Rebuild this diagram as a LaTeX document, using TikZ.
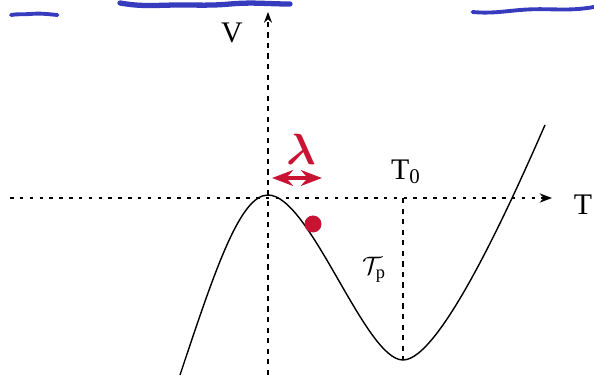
\documentclass[tikz,border=0pt]{standalone}
\usepackage{amsmath}
\usepackage{fontspec}
\setmainfont{Liberation Serif}
\usetikzlibrary{arrows.meta}
\definecolor{inkred}{RGB}{200,20,50}
\definecolor{inkblue}{RGB}{55,60,190}
\tikzset{
  axislbl/.style={font=\fontsize{17}{19}\selectfont},
  dotaxis/.style={line width=0.9pt,dash pattern=on 2pt off 3.6pt},
  dashaxis/.style={line width=0.7pt,dash pattern=on 3pt off 3pt},
  squiggle/.style={inkblue,line width=2.2pt,line cap=round}
}
\begin{document}
\begin{tikzpicture}[>=Stealth]
  \useasboundingbox (0,0) rectangle (11.88,7.7);
  % axes
  \coordinate (tl) at (0.2,3.74); \coordinate (tr) at (11.04,3.74);
  \coordinate (vb) at (5.36,0.2); \coordinate (vt) at (5.36,7.46);
  \draw[->,dotaxis] (tl)--(tr);
  \draw[->,dashaxis] (vb)--(vt);
  \node[axislbl] (vlbl) at (4.64,7.04) {V};
  \node[axislbl] (tlbl) at (11.66,3.6) {T};
  % curve
  \coordinate (c0) at (3.60,0.20); \coordinate (cmax) at (5.36,3.80);
  \coordinate (cmin) at (8.06,0.50); \coordinate (c1) at (10.90,5.20);
  \draw[line width=0.8pt] (c0) .. controls (4.3,2.3) and (4.8,3.80) .. (cmax)
    .. controls (6.2,3.80) and (7.3,0.50) .. (cmin)
    .. controls (8.8,0.50) and (10.2,3.6) .. (c1);
  \coordinate (t0) at (8.06,3.74);
  \draw[dashaxis] (t0)--(cmin);
  \node[axislbl] (t0lbl) at (8.12,4.26) {T$_{\mathrm{0}}$};
  \node[font=\fontsize{15}{17}\selectfont] (tplbl) at (7.48,2.3) {$\mathcal{T}_{\mathrm{p}}$};
  % red marks
  \coordinate (ra) at (5.44,4.14); \coordinate (rb) at (6.44,4.14);
  \draw[<->,inkred,line width=2pt] (ra)--(rb);
  \node[inkred,font=\fontsize{26}{28}\selectfont] (lam) at (6.02,4.72) {$\boldsymbol{\lambda}$};
  \fill[inkred] (6.26,3.22) circle(0.17);
  % blue underlines from the page above
  \draw[squiggle] (0.22,7.4) to[out=10,in=185] (0.6,7.42) to[out=5,in=175] (1.15,7.4);
  \draw[squiggle,line width=3pt] (2.4,7.64) to[out=-10,in=180] (3.6,7.6) to[out=0,in=185] (4.6,7.62) to[out=5,in=180] (5.8,7.62);
  \draw[squiggle] (9.45,7.46) to[out=-5,in=185] (10.4,7.5) to[out=5,in=190] (11.88,7.56);
\end{tikzpicture}
\end{document}
